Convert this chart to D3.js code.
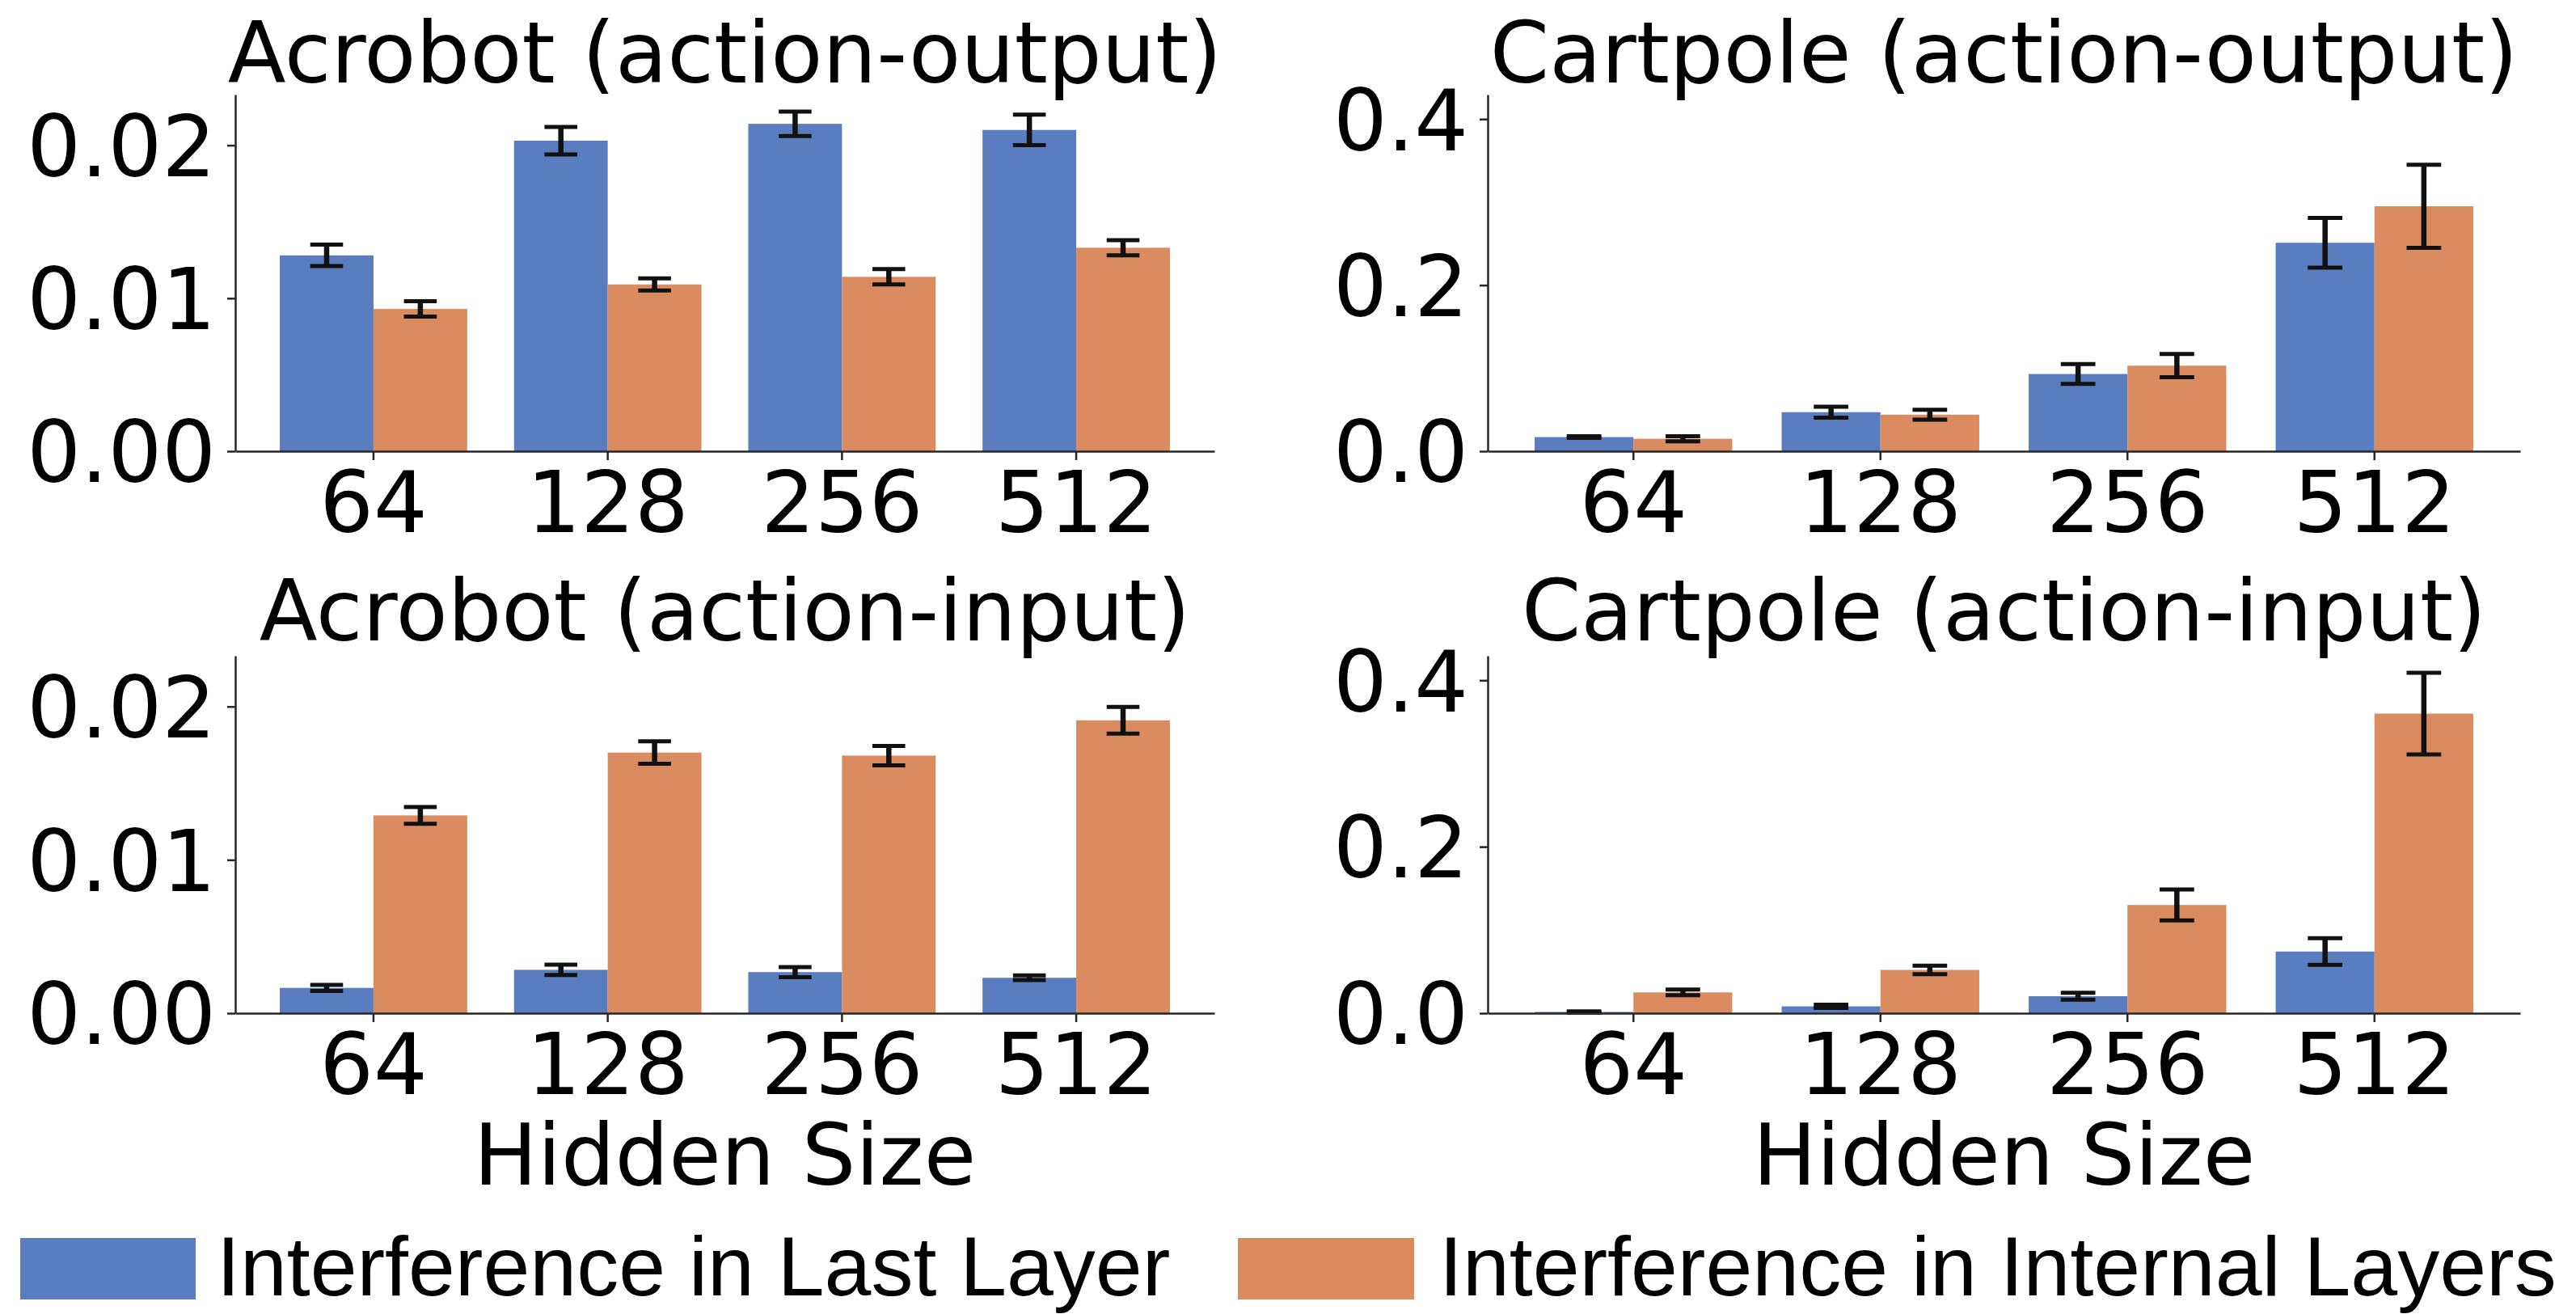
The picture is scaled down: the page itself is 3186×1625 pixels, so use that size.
<!DOCTYPE html>
<html>
<head>
<meta charset="utf-8">
<script src="https://cdn.jsdelivr.net/npm/d3@7"></script>
<style>
  html, body { margin: 0; padding: 0; background: #fff; }
  svg { display: block; }
</style>
</head>
<body>
<script>
// Hidden sizes on the x axis of every panel
const hiddenSizes = ["64", "128", "256", "512"];
const seriesNames = ["Interference in Last Layer", "Interference in Internal Layers"];

// Acrobot, action-output
const acroOutLast = [0.0128, 0.0203, 0.0214, 0.0210];
const acroOutLastErr = [0.0007, 0.0009, 0.0008, 0.0010];
const acroOutInternal = [0.0093, 0.0109, 0.0114, 0.0133];
const acroOutInternalErr = [0.0005, 0.0004, 0.0005, 0.0005];

// Cartpole, action-output
const cartOutLast = [0.017, 0.047, 0.093, 0.251];
const cartOutLastErr = [0.001, 0.0065, 0.012, 0.030];
const cartOutInternal = [0.015, 0.044, 0.103, 0.295];
const cartOutInternalErr = [0.003, 0.006, 0.014, 0.050];

// Acrobot, action-input
const acroInLast = [0.00165, 0.00283, 0.00268, 0.00231];
const acroInLastErr = [0.0002, 0.00034, 0.00033, 0.00015];
const acroInInternal = [0.0129, 0.0170, 0.0168, 0.0191];
const acroInInternalErr = [0.00055, 0.00073, 0.00063, 0.00087];

// Cartpole, action-input
const cartInLast = [0.0015, 0.0082, 0.0204, 0.0741];
const cartInLastErr = [0.0008, 0.002, 0.0041, 0.016];
const cartInInternal = [0.025, 0.052, 0.130, 0.360];
const cartInInternalErr = [0.0035, 0.0052, 0.0186, 0.049];

// Tick values per column (y axis is shared within a column)
const acroTicks = [0, 0.01, 0.02];
const cartTicks = [0, 0.2, 0.4];

const W = 3186, H = 1625;
const colors = ["#597dbf", "#da8b5f"];
const FONT = "'DejaVu Sans', sans-serif";
const FS = 105;

const svg = d3.select("body").append("svg")
  .attr("width", W).attr("height", H)
  .attr("viewBox", `0 0 ${W} ${H}`);

const cols = [
  { x0: 291, x1: 1502, ticks: acroTicks, fmt: d3.format(".2f") },
  { x0: 1840, x1: 3117, ticks: cartTicks, fmt: d3.format(".1f") }
];
const rows = [
  { y0: 117, y1: 558, titleGap: 15 },
  { y0: 811, y1: 1253, titleGap: 19 }
];

const panels = [
  { col: 0, row: 0, title: "Acrobot (action-output)",
    series: [[acroOutLast, acroOutLastErr], [acroOutInternal, acroOutInternalErr]] },
  { col: 1, row: 0, title: "Cartpole (action-output)",
    series: [[cartOutLast, cartOutLastErr], [cartOutInternal, cartOutInternalErr]] },
  { col: 0, row: 1, title: "Acrobot (action-input)",
    series: [[acroInLast, acroInLastErr], [acroInInternal, acroInInternalErr]] },
  { col: 1, row: 1, title: "Cartpole (action-input)",
    series: [[cartInLast, cartInLastErr], [cartInInternal, cartInInternalErr]] }
];

// Shared y-limit per column: highest bar+error, plus a 5% margin
cols.forEach((c, ci) => {
  let m = 0;
  panels.filter(p => p.col === ci).forEach(p => {
    p.series.forEach(([v, e]) => v.forEach((d, i) => { m = Math.max(m, d + e[i]); }));
  });
  c.ymax = m * 1.05;
});

panels.forEach(p => {
  const c = cols[p.col], r = rows[p.row];
  const g = svg.append("g");

  const x = d3.scaleBand().domain(hiddenSizes)
    .range([c.x0, c.x1]).paddingInner(0.2).paddingOuter(0.19);
  const xs = d3.scaleBand().domain([0, 1]).range([0, x.bandwidth()]).padding(0);
  const y = d3.scaleLinear().domain([0, c.ymax]).range([r.y1, r.y0]);

  const rowsData = [];
  p.series.forEach(([vals, errs], si) => {
    vals.forEach((v, i) => rowsData.push({ cat: hiddenSizes[i], s: si, v, e: errs[i] }));
  });

  // Bars
  g.append("g").selectAll("rect").data(rowsData).join("rect")
    .attr("x", d => x(d.cat) + xs(d.s))
    .attr("width", xs.bandwidth())
    .attr("y", d => y(d.v))
    .attr("height", d => y(0) - y(d.v))
    .attr("fill", d => colors[d.s]);

  // Error bars with caps
  const capHalf = x.step() * 0.07;
  const eb = g.append("g").attr("stroke", "#111").attr("stroke-width", 6.5).attr("fill", "none");
  rowsData.forEach(d => {
    const cx = x(d.cat) + xs(d.s) + xs.bandwidth() / 2;
    const lo = y(Math.max(0, d.v - d.e)), hi = y(d.v + d.e);
    eb.append("line").attr("x1", cx).attr("x2", cx).attr("y1", lo).attr("y2", hi);
    eb.append("line").attr("x1", cx - capHalf).attr("x2", cx + capHalf).attr("y1", lo).attr("y2", lo).attr("stroke-width", 5);
    eb.append("line").attr("x1", cx - capHalf).attr("x2", cx + capHalf).attr("y1", hi).attr("y2", hi).attr("stroke-width", 5);
  });

  // Axes
  const xAxis = g.append("g").attr("transform", `translate(0,${r.y1})`)
    .call(d3.axisBottom(x).tickSize(11).tickSizeOuter(0).tickPadding(20));
  const yAxis = g.append("g").attr("transform", `translate(${c.x0},0)`)
    .call(d3.axisLeft(y).tickValues(c.ticks).tickFormat(c.fmt).tickSize(10).tickSizeOuter(0).tickPadding(14));

  [xAxis, yAxis].forEach(a => {
    a.select(".domain").attr("stroke", "#262626").attr("stroke-width", 2.5);
    a.selectAll(".tick line").attr("stroke", "#262626").attr("stroke-width", 2.5);
    a.selectAll(".tick text").attr("fill", "#000")
      .style("font-family", FONT).style("font-size", FS + "px");
  });
  xAxis.selectAll(".tick text").attr("dy", null).attr("y", 100).attr("dominant-baseline", "alphabetic");
  yAxis.selectAll(".tick text").attr("dy", "0.36em");

  // Panel title
  g.append("text")
    .attr("x", (c.x0 + c.x1) / 2).attr("y", r.y0 - r.titleGap)
    .attr("text-anchor", "middle")
    .style("font-family", FONT).style("font-size", FS + "px")
    .text(p.title);

  // X axis label on the bottom row
  if (p.row === 1) {
    g.append("text")
      .attr("x", (c.x0 + c.x1) / 2).attr("y", r.y1 + 212)
      .attr("text-anchor", "middle")
      .style("font-family", FONT).style("font-size", FS + "px")
      .text("Hidden Size");
  }
});

// Legend across the bottom
const legendItems = [
  { name: seriesNames[0], color: colors[0], px: 25, pw: 217, tx: 268 },
  { name: seriesNames[1], color: colors[1], px: 1531, pw: 218, tx: 1780 }
];
const lg = svg.append("g");
legendItems.forEach(it => {
  lg.append("rect").attr("x", it.px).attr("y", 1531).attr("width", it.pw).attr("height", 76)
    .attr("fill", it.color);
  lg.append("text").attr("x", it.tx).attr("y", 1602)
    .style("font-family", "'Liberation Sans', Arial, sans-serif").style("font-size", "104px")
    .text(it.name);
});
</script>
</body>
</html>
